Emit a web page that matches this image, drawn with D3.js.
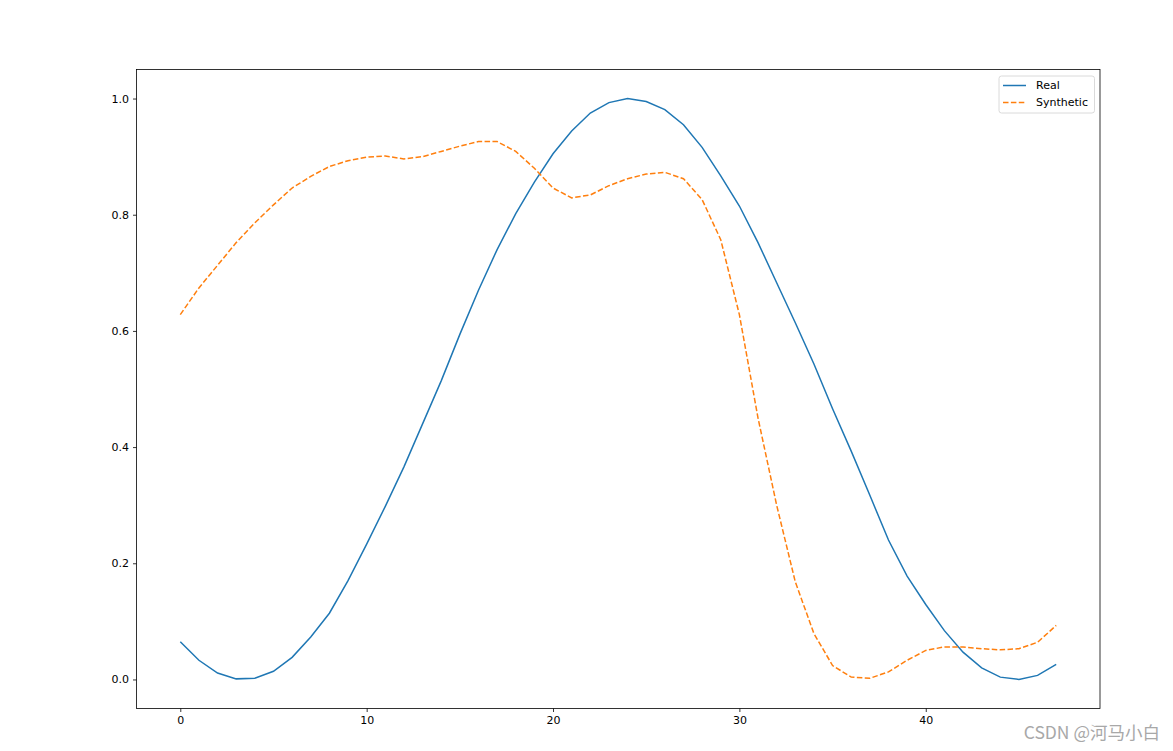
<!DOCTYPE html>
<html>
<head>
<meta charset="utf-8">
<script src="https://cdn.jsdelivr.net/npm/d3@7"></script>
<style>
  body { margin: 0; background: #fff; }
  svg { display: block; font-family: "DejaVu Sans", sans-serif; }
</style>
</head>
<body>
<svg id="chart"></svg>
<script>
// values
var real = [0.065, 0.033, 0.011, 0.001, 0.002, 0.014, 0.038, 0.073, 0.114, 0.170,
            0.233, 0.298, 0.366, 0.440, 0.514, 0.594, 0.670, 0.740, 0.802, 0.856,
            0.905, 0.944, 0.975, 0.993, 1.000, 0.995, 0.981, 0.955, 0.916, 0.867,
            0.815, 0.752, 0.683, 0.614, 0.543, 0.466, 0.393, 0.317, 0.240, 0.178,
            0.129, 0.084, 0.047, 0.020, 0.004, 0.000, 0.007, 0.026];
var synthetic = [0.628, 0.674, 0.713, 0.752, 0.786, 0.817, 0.846, 0.866, 0.883, 0.893,
                 0.899, 0.901, 0.896, 0.900, 0.909, 0.918, 0.926, 0.926, 0.909, 0.880,
                 0.846, 0.829, 0.834, 0.850, 0.862, 0.870, 0.873, 0.862, 0.826, 0.757,
                 0.628, 0.450, 0.300, 0.168, 0.079, 0.024, 0.004, 0.002, 0.013, 0.033,
                 0.050, 0.056, 0.056, 0.053, 0.051, 0.053, 0.064, 0.093];
var xTicks = [0, 10, 20, 30, 40];
var yTicks = [0.0, 0.2, 0.4, 0.6, 0.8, 1.0];
var seriesNames = ["Real", "Synthetic"];

var width = 1173, height = 751;
// plot box (window.top is reserved, so use own names)
var boxL = 136.5, boxR = 1100, boxT = 69.5, boxB = 708.5;

var svg = d3.select("#chart")
    .attr("width", width)
    .attr("height", height);

// matplotlib style 5% margins
var n = real.length - 1;
var x = d3.scaleLinear()
    .domain([-0.05 * n, n * 1.05])
    .range([boxL, boxR]);
var y = d3.scaleLinear()
    .domain([-0.05, 1.05])
    .range([boxB, boxT]);

var line = d3.line()
    .x(function(d, i) { return x(i); })
    .y(function(d) { return y(d); });

var colors = ["#1f77b4", "#ff7f0e"];

svg.append("path")
    .datum(real)
    .attr("d", line)
    .attr("fill", "none")
    .attr("stroke", colors[0])
    .attr("stroke-width", 1.5);

svg.append("path")
    .datum(synthetic)
    .attr("d", line)
    .attr("fill", "none")
    .attr("stroke", colors[1])
    .attr("stroke-width", 1.5)
    .attr("stroke-dasharray", "5.5,2.4");

// axes
var xAxis = svg.append("g")
    .attr("transform", "translate(0," + boxB + ")")
    .call(d3.axisBottom(x).tickValues(xTicks).tickSize(3.5).tickPadding(4).tickFormat(d3.format("d")));
var yAxis = svg.append("g")
    .attr("transform", "translate(" + boxL + ",0)")
    .call(d3.axisLeft(y).tickValues(yTicks).tickSize(3.5).tickPadding(4).tickFormat(d3.format(".1f")));

[xAxis, yAxis].forEach(function(g) {
    g.select(".domain").remove();
    g.selectAll("line").attr("stroke", "#000").attr("stroke-width", 0.8);
    g.selectAll("text").attr("fill", "#000").style("font-size", "11px").style("font-family", "DejaVu Sans");
});

// frame
svg.append("rect")
    .attr("x", boxL)
    .attr("y", boxT)
    .attr("width", boxR - boxL)
    .attr("height", boxB - boxT)
    .attr("fill", "none")
    .attr("stroke", "#000")
    .attr("stroke-width", 0.8);

// legend
var legend = svg.append("g").attr("transform", "translate(999,76)");
legend.append("rect")
    .attr("width", 95.5)
    .attr("height", 37)
    .attr("rx", 2.5)
    .attr("fill", "#fff")
    .attr("fill-opacity", 0.8)
    .attr("stroke", "#d0d0d0")
    .attr("stroke-width", 0.8);

seriesNames.forEach(function(name, i) {
    var ly = 9.5 + i * 17;
    legend.append("line")
        .attr("x1", 4).attr("x2", 27)
        .attr("y1", ly).attr("y2", ly)
        .attr("stroke", colors[i])
        .attr("stroke-width", 1.5)
        .attr("stroke-dasharray", i == 1 ? "5.5,2.4" : null);
    legend.append("text")
        .attr("x", 37)
        .attr("y", ly)
        .attr("dy", "0.35em")
        .style("font-size", "11px")
        .text(name);
});

// watermark
svg.append("text")
    .attr("x", 1160)
    .attr("y", 739)
    .attr("text-anchor", "end")
    .attr("fill", "#a8a8a8")
    .style("font-family", "'Noto Sans CJK SC', sans-serif")
    .style("font-size", "17.5px")
    .text("CSDN @河马小白");
</script>
</body>
</html>
